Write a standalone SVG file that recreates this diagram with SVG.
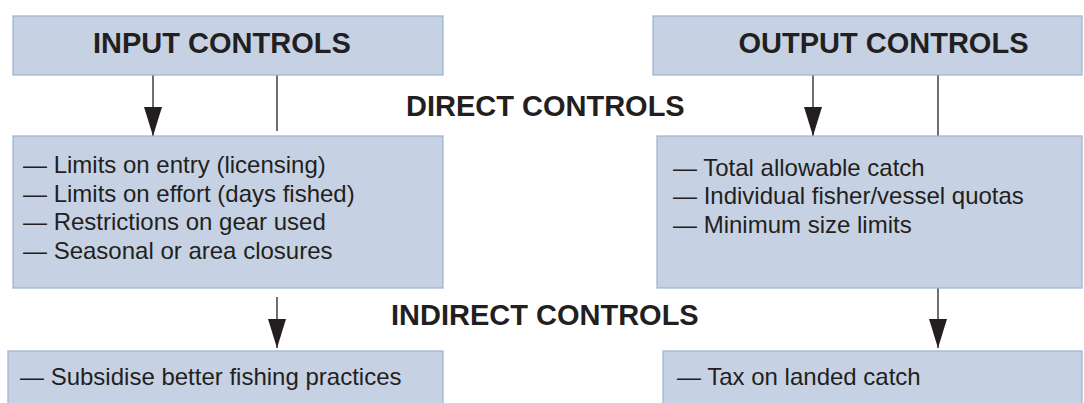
<svg xmlns="http://www.w3.org/2000/svg" width="1084" height="403" viewBox="0 0 1084 403">
  <style>
    .box { fill: #c6d2e3; stroke: #9ab2d3; stroke-width: 1.2; }
    .head { font-family: "Liberation Sans", Arial, sans-serif; font-weight: bold; font-size: 29px; fill: #231f20; }
    .item { font-family: "Liberation Sans", Arial, sans-serif; font-size: 24px; fill: #231f20; }
    .wire { stroke: #231f20; stroke-width: 1.3; fill: none; }
  </style>
  <defs>
    <marker id="arrow" markerUnits="userSpaceOnUse" viewBox="0 0 29 18" refX="29" refY="9" markerWidth="29" markerHeight="18" orient="auto">
      <path d="M0,0 L29,9 L0,18 z" fill="#231f20"/>
    </marker>
  </defs>
  <rect width="1084" height="403" fill="#ffffff"/>

  <!-- connectors -->
  <g id="connectors">
    <line class="wire" x1="153" y1="75" x2="153" y2="136" marker-end="url(#arrow)"/>
    <line class="wire" x1="277" y1="75" x2="277" y2="131"/>
    <line class="wire" x1="277" y1="297" x2="277" y2="348" marker-end="url(#arrow)"/>
    <line class="wire" x1="813" y1="75" x2="813" y2="136" marker-end="url(#arrow)"/>
    <line class="wire" x1="938" y1="75" x2="938" y2="348" marker-end="url(#arrow)"/>
  </g>

  <g id="input-controls">
    <rect class="box" x="13" y="16" width="430" height="59"/>
    <text class="head" x="93" y="53">INPUT CONTROLS</text>
  </g>

  <g id="output-controls">
    <rect class="box" x="653" y="16" width="429" height="59"/>
    <text class="head" x="738.5" y="53">OUTPUT CONTROLS</text>
  </g>

  <g id="direct-label">
    <text class="head" x="406" y="116">DIRECT CONTROLS</text>
  </g>

  <g id="input-direct">
    <rect class="box" x="13" y="136" width="430" height="152"/>
    <text class="item" x="23" y="173">— Limits on entry (licensing)</text>
    <text class="item" x="23" y="201.6">— Limits on effort (days fished)</text>
    <text class="item" x="23" y="230.2">— Restrictions on gear used</text>
    <text class="item" x="23" y="258.8">— Seasonal or area closures</text>
  </g>

  <g id="output-direct">
    <rect class="box" x="657" y="136" width="425" height="152"/>
    <text class="item" x="673" y="175.5">— Total allowable catch</text>
    <text class="item" x="673" y="204">— Individual fisher/vessel quotas</text>
    <text class="item" x="673" y="232.5">— Minimum size limits</text>
  </g>

  <g id="indirect-label">
    <text class="head" x="391" y="325">INDIRECT CONTROLS</text>
  </g>

  <g id="input-indirect">
    <rect class="box" x="8" y="351" width="435" height="60"/>
    <text class="item" x="20" y="385">— Subsidise better fishing practices</text>
  </g>

  <g id="output-indirect">
    <rect class="box" x="663" y="351" width="419" height="60"/>
    <text class="item" x="677" y="385">— Tax on landed catch</text>
  </g>
</svg>
